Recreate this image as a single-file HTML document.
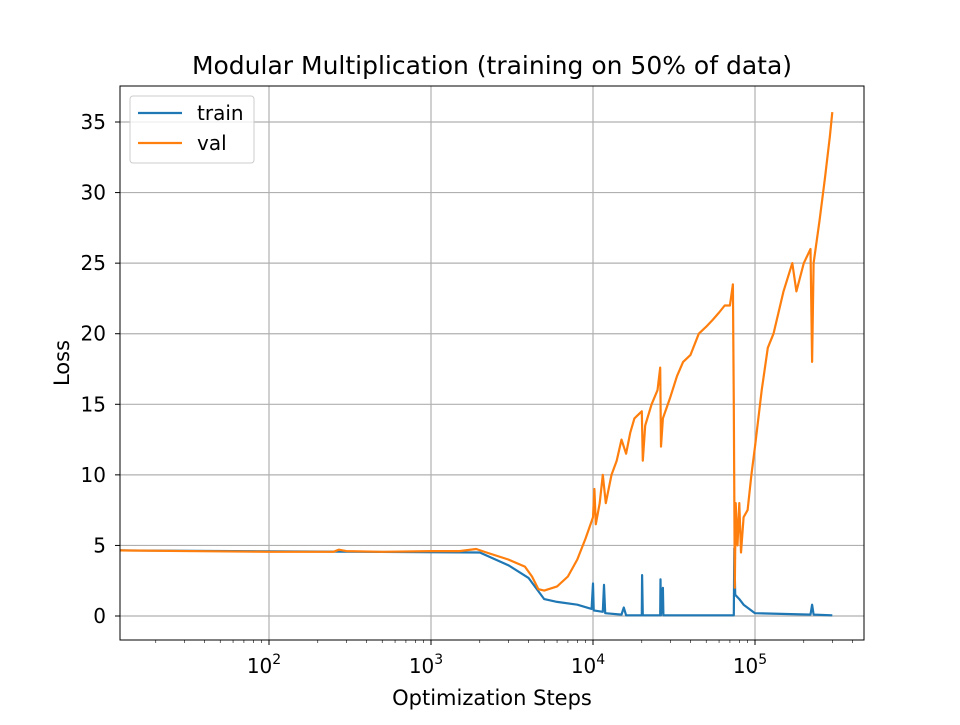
<!DOCTYPE html>
<html><head><meta charset="utf-8">
<style>
body{margin:0;background:#fff;}
svg{font-family:"DejaVu Sans","Liberation Sans",sans-serif;}
</style></head>
<body>
<svg id="chart" width="960" height="720" viewBox="0 0 960 720">
<rect x="0" y="0" width="960" height="720" fill="#fff"/>
<text x="492" y="74" font-size="25" text-anchor="middle">Modular Multiplication (training on 50% of data)</text>
<text x="492" y="705" font-size="21" text-anchor="middle">Optimization Steps</text>
<text x="69" y="363" font-size="21" text-anchor="middle" transform="rotate(-90 69 363)">Loss</text>
<g id="grid"></g>
<g id="series"></g>
<rect x="120" y="86" width="744" height="554" fill="none" stroke="#000" stroke-width="1"/>
<g id="ticks"></g>
<g>
<rect x="130" y="96" width="124" height="67" rx="3" fill="#fff" fill-opacity="0.8" stroke="#ccc"/>
<line x1="138" y1="113" x2="182" y2="113" stroke="#1f77b4" stroke-width="2.2"/>
<text x="197" y="120" font-size="20">train</text>
<line x1="138" y1="143" x2="182" y2="143" stroke="#ff7f0e" stroke-width="2.2"/>
<text x="197" y="150" font-size="20">val</text>
</g>
</svg>
<script>
const valSteps=[12,100,250,270,300,500,1000,1500,1900,2200,3000,3800,4200,4600,5000,6000,7000,8000,9000,10000,10200,10400,11000,11500,12000,13000,14000,15000,16000,17000,18000,20000,20300,21000,23000,25000,26000,26300,27000,30000,33000,36000,40000,45000,50000,55000,60000,65000,70000,73000,74000,75000,76000,78000,80000,82000,85000,90000,95000,100000,110000,120000,130000,150000,170000,180000,200000,220000,225000,230000,250000,270000,290000,300000];
const valLoss=[4.65,4.55,4.55,4.7,4.6,4.55,4.6,4.6,4.75,4.5,4.0,3.5,2.8,1.9,1.8,2.1,2.8,4,5.5,7,9,6.5,8,10,8,10,11,12.5,11.5,13,14,14.5,11,13.5,15,16,17.6,12,14,15.5,17,18,18.5,20,20.5,21,21.5,22,22,23.5,15,2,8,5,8,4.5,7,7.5,10,12,16,19,20,23,25,23,25,26,18,25,28,31,34,35.7];
const trainSteps=[12,2000,3000,4000,5000,6000,8000,9800,10000,10100,11500,11700,11900,15000,15500,16000,20000,20100,20300,26000,26100,26300,27000,27200,74000,74500,75500,80000,85000,100000,220000,225000,230000,300000];
const trainLoss=[4.65,4.5,3.6,2.7,1.2,1.0,0.8,0.5,2.3,0.4,0.3,2.2,0.2,0.1,0.6,0.05,0.05,2.9,0.05,0.05,2.6,0.05,2.0,0.05,0.05,4.8,1.5,1.2,0.8,0.2,0.1,0.8,0.1,0.05];
const yTicks=[0,5,10,15,20,25,30,35];
const xDecades=[2,3,4,5];
const NS='http://www.w3.org/2000/svg';
const L=120,R=864,T=86,B=640;
function xs(v){return 431+(Math.log10(v)-3)*162;}
function ys(v){return 616-v*14.114;}
function mk(tag,attrs,parent){const e=document.createElementNS(NS,tag);for(const k in attrs)e.setAttribute(k,attrs[k]);parent.appendChild(e);return e;}
const grid=document.getElementById('grid'),ticks=document.getElementById('ticks'),series=document.getElementById('series');
yTicks.forEach(t=>{const y=ys(t);
 const g=mk('line',{x1:L,x2:R,y1:y,y2:y,stroke:'#b0b0b0','stroke-width':1.2},grid);
 
 
 mk('line',{x1:L-5,x2:L,y1:y,y2:y,stroke:'#000'},ticks);
 const tx=mk('text',{x:L-14,y:y+7,'font-size':20,'text-anchor':'end'},ticks);tx.textContent=t;
 
 
});
xDecades.forEach(d=>{const x=xs(Math.pow(10,d));
 const g=mk('line',{x1:x,x2:x,y1:T,y2:B,stroke:'#b0b0b0','stroke-width':1.2},grid);
 
 
 mk('line',{x1:x,x2:x,y1:B,y2:B+5,stroke:'#000'},ticks);
 const tx=mk('text',{x:x-5,y:B+33,'font-size':20,'text-anchor':'middle'},ticks);
 
 
 tx.appendChild(document.createTextNode('10'));
 const sup=mk('tspan',{dy:-9,'font-size':14},tx);sup.textContent=d;
});
for(let d=1;d<=5;d++)for(let m=2;m<=9;m++){const v=m*Math.pow(10,d);const x=xs(v);if(x<L||x>R)continue;
 mk('line',{x1:x,x2:x,y1:B,y2:B+3,stroke:'#000','stroke-width':0.6},ticks);}
function path(xsArr,ysArr,color,name){
 const d=xsArr.map((s,i)=>(i?'L':'M')+xs(s).toFixed(1)+','+ys(ysArr[i]).toFixed(1)).join('');
 const p=mk('path',{d:d,fill:'none',stroke:color,'stroke-width':2.2,'stroke-linejoin':'round'},series);
 
 
}
path(trainSteps,trainLoss,'#1f77b4','train-line');
path(valSteps,valLoss,'#ff7f0e','val-line');
</script>
</body></html>
